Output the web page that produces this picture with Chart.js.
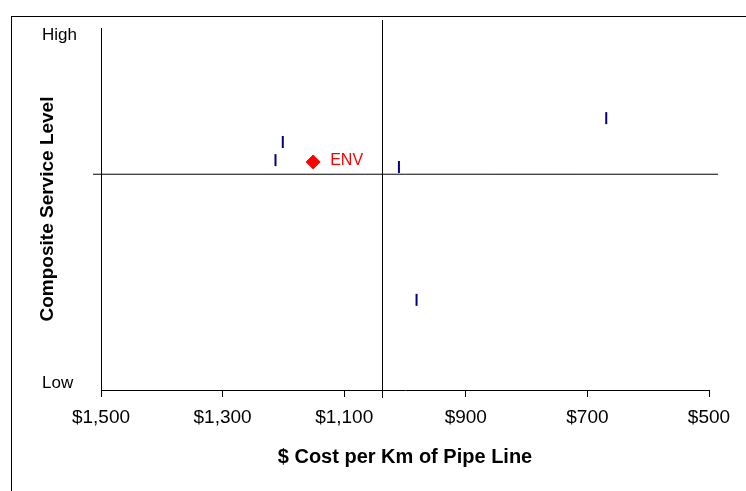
<!DOCTYPE html>
<html>
<head>
<meta charset="utf-8">
<script src="https://cdn.jsdelivr.net/npm/chart.js@4/dist/chart.umd.min.js"></script>
<style>
  html, body { margin: 0; padding: 0; background: #fff; }
  #wrap { width: 746px; height: 491px; }
</style>
</head>
<body>
<div id="wrap"><canvas id="myChart"></canvas></div>
<script>
// cost per km and service score for the compared utilities
const peerCost = [1201, 1213, 1010, 669, 981];
const peerService = [68.5, 63.5, 61.6, 75.1, 24.9];

// the highlighted utility
const envLabel = 'ENV';
const envCost = [1151];
const envService = [63.0];

// quadrant split (group averages)
const avgCost = 1037;
const avgService = 59.6;

const xTicks = [1500, 1300, 1100, 900, 700, 500];
const yLabels = ['Low', 'High'];

const FONT = '"Liberation Sans", Arial, sans-serif';

const peers = peerCost.map((c, i) => ({ x: c, y: peerService[i] }));
const env = envCost.map((c, i) => ({ x: c, y: envService[i] }));

// extras drawn on the canvas: frame, High/Low, point label
const extras = {
  id: 'extras',
  afterDatasetsDraw(chart) {
    const { ctx, scales: { x, y } } = chart;
    ctx.save();

    ctx.strokeStyle = '#000';
    ctx.lineWidth = 1;
    ctx.strokeRect(11.5, 16.5, 900, 900);

    ctx.fillStyle = '#000';
    ctx.font = '17px ' + FONT;
    ctx.textAlign = 'left';
    ctx.textBaseline = 'middle';
    ctx.fillText(yLabels[1], 42, y.getPixelForValue(y.max) + 7);
    ctx.fillText(yLabels[0], 42, y.getPixelForValue(y.min) - 7);

    ctx.fillStyle = '#ff0000';
    ctx.font = '16px ' + FONT;
    ctx.fillText(envLabel, x.getPixelForValue(envCost[0]) + 17, y.getPixelForValue(envService[0]) - 1);
    ctx.restore();
  }
};

const ctx = document.getElementById('myChart');

new Chart(ctx, {
  type: 'scatter',
  data: {
    datasets: [
      {
        label: 'cost split',
        data: [{ x: avgCost, y: -2.2 }, { x: avgCost, y: 102.2 }],
        showLine: true,
        borderColor: '#000',
        borderWidth: 1,
        pointRadius: 0,
        clip: false,
        order: 3
      },
      {
        label: 'service split',
        data: [{ x: 1513, y: avgService }, { x: 485, y: avgService }],
        showLine: true,
        borderColor: '#000',
        borderWidth: 1,
        pointRadius: 0,
        clip: false,
        order: 3
      },
      {
        label: 'Peers',
        data: peers,
        pointStyle: 'line',
        rotation: 90,
        pointRadius: 6,
        borderWidth: 2,
        borderColor: '#000080',
        backgroundColor: '#000080',
        clip: false,
        order: 1
      },
      {
        label: envLabel,
        data: env,
        pointStyle: 'rectRot',
        pointRadius: 7,
        borderWidth: 1,
        borderColor: '#ff0000',
        backgroundColor: '#ff0000',
        clip: false,
        order: 0
      }
    ]
  },
  options: {
    responsive: true,
    maintainAspectRatio: false,
    animation: false,
    layout: { padding: { top: 28, right: 37, left: 0, bottom: 0 } },
    plugins: {
      legend: { display: false },
      tooltip: { enabled: false }
    },
    scales: {
      x: {
        type: 'linear',
        reverse: true,
        min: 500,
        max: 1500,
        afterFit: scale => { scale.height = 101; },
        afterBuildTicks: scale => { scale.ticks = xTicks.map(v => ({ value: v })); },
        grid: {
          drawOnChartArea: false,
          drawTicks: true,
          tickLength: 7,
          color: '#000'
        },
        border: { display: true, color: '#000', width: 1 },
        ticks: {
          color: '#000',
          padding: 9,
          font: { family: FONT, size: 19 },
          callback: v => '$' + v.toLocaleString('en-US')
        },
        title: {
          display: true,
          text: '$ Cost per Km of Pipe Line',
          color: '#000',
          font: { family: FONT, size: 20, weight: 'bold' },
          padding: { top: 0, bottom: 22 }
        }
      },
      y: {
        type: 'linear',
        min: 0,
        max: 100,
        afterFit: scale => { scale.width = 101; },
        grid: { display: false },
        border: { display: true, color: '#000', width: 1 },
        ticks: { display: false },
        title: {
          display: true,
          text: 'Composite Service Level',
          color: '#000',
          font: { family: FONT, size: 19, weight: 'bold' },
          padding: { top: 36, bottom: 0 }
        }
      }
    }
  },
  plugins: [extras]
});
</script>
</body>
</html>
